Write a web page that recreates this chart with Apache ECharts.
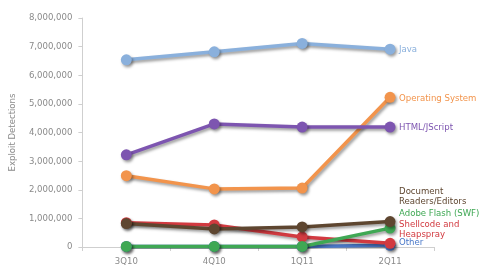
<!DOCTYPE html>
<html><head><meta charset="utf-8">
<script src="https://cdn.jsdelivr.net/npm/echarts@6/dist/echarts.min.js"></script>
<style>html,body{margin:0;padding:0;background:#fff}#c{width:480px;height:276px}</style>
</head><body><div id="c"></div>
<script>
const categories = ['3Q10','4Q10','1Q11','2Q11'];
const java = [6540000, 6820000, 7110000, 6910000];
const operatingSystem = [2490000, 2030000, 2060000, 5230000];
const htmlJScript = [3220000, 4300000, 4190000, 4190000];
const other = [20000, 20000, 20000, 60000];
const shellcode = [850000, 770000, 350000, 130000];
const adobeFlash = [20000, 20000, 20000, 660000];
const documentReaders = [820000, 630000, 700000, 890000];
const yTicks = [0,1000000,2000000,3000000,4000000,5000000,6000000,7000000,8000000];

const FONT = "'Liberation Sans Narrow','DejaVu Sans Condensed','Open Sans',sans-serif";
function mk(name, data, color, labelText, offsetY) {
  return {
    name, type: 'line', data,
    symbol: 'circle', symbolSize: 11,
    lineStyle: {width: 3.5, color, shadowColor: 'rgba(0,0,0,0.4)', shadowBlur: 3, shadowOffsetY: 2, shadowOffsetX: 1.5},
    itemStyle: {color, shadowColor: 'rgba(0,0,0,0.4)', shadowBlur: 3, shadowOffsetY: 2, shadowOffsetX: 1.5},
    endLabel: {show: true, formatter: labelText, color, fontFamily: FONT, fontSize: 9.5, lineHeight: 10, distance: 9, offset: [0, offsetY]},
    emphasis: {disabled: true}, animation: false
  };
}
const chart = echarts.init(document.getElementById('c'));
chart.setOption({
  animation: false,
  grid: {left: 62, right: 46, top: 18, bottom: 29},
  xAxis: {
    type: 'category', data: categories, boundaryGap: true,
    axisLine: {lineStyle: {color: '#cfcfcf', width: 1}},
    axisTick: {show: true, length: 4, lineStyle: {color: '#cfcfcf'}},
    axisLabel: {color: '#8a8a8a', fontFamily: FONT, fontSize: 9.5, margin: 10}
  },
  yAxis: {
    type: 'value', min: 0, max: 8000000, interval: 1000000,
    name: 'Exploit Detections', nameLocation: 'middle', nameRotate: 90, nameGap: 52,
    nameTextStyle: {color: '#8a8a8a', fontFamily: FONT, fontSize: 9.5},
    axisLine: {show: true, lineStyle: {color: '#cfcfcf'}},
    axisTick: {show: true, length: 4, lineStyle: {color: '#cfcfcf'}},
    splitLine: {show: false},
    axisLabel: {color: '#8a8a8a', fontFamily: FONT, fontSize: 9.5, margin: 10,
      formatter: v => yTicks.includes(v) ? v.toLocaleString('en-US') : ''}
  },
  series: [
    mk('Java', java, '#8ab0dc', 'Java', 0),
    mk('Operating System', operatingSystem, '#f2944c', 'Operating System', 1),
    mk('HTML/JScript', htmlJScript, '#7d55b0', 'HTML/JScript', 0),
    mk('Other', other, '#4a78c8', 'Other', -3),
    mk('Shellcode and Heapspray', shellcode, '#d23a40', 'Shellcode and\nHeapspray', -14),
    mk('Adobe Flash (SWF)', adobeFlash, '#3fa854', 'Adobe Flash (SWF)', -15),
    mk('Document Readers/Editors', documentReaders, '#5e4630', 'Document\nReaders/Editors', -25)
  ]
});
</script></body></html>
